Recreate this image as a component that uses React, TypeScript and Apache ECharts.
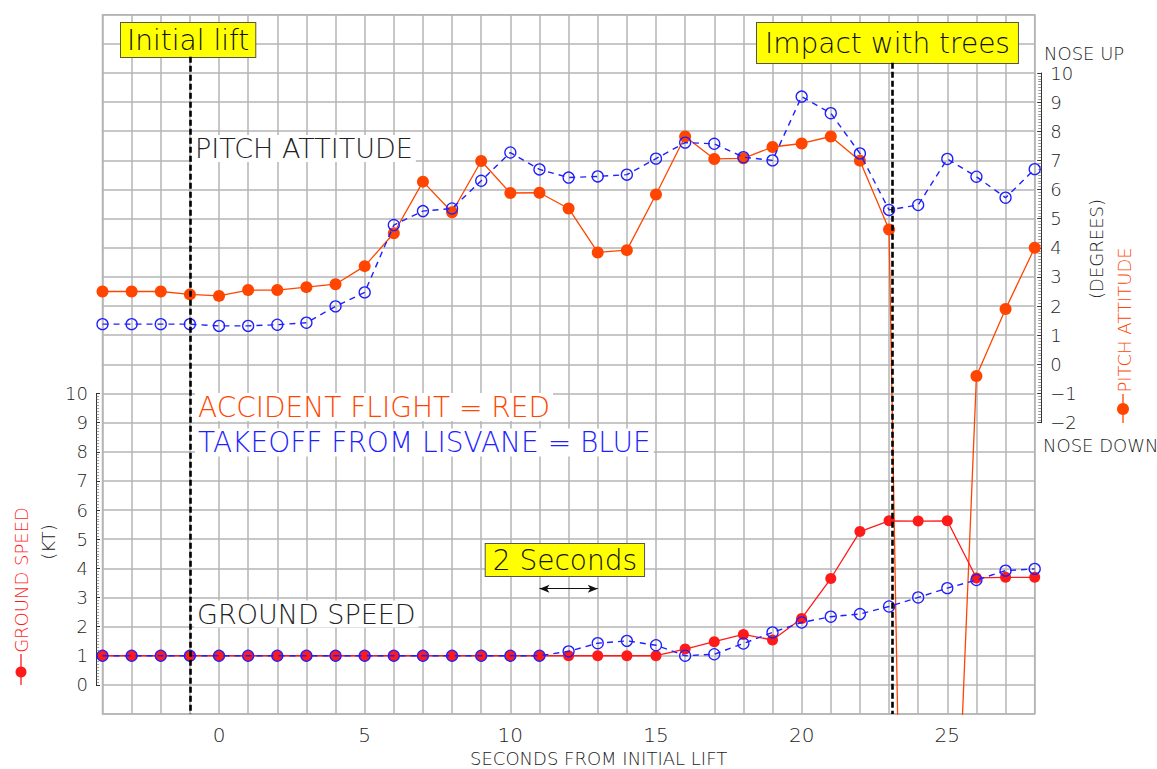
import React, { useEffect, useRef } from 'react';
import * as echarts from 'echarts';

// ---- data ----
const seconds = [-4, -3, -2, -1, 0, 1, 2, 3, 4, 5, 6, 7, 8, 9, 10, 11, 12, 13, 14, 15, 16, 17, 18, 19, 20, 21, 22, 23, 24, 25, 26, 27, 28];

// pitch attitude, degrees
const accidentPitch = [2.5, 2.5, 2.5, 2.4, 2.35, 2.55, 2.55, 2.65, 2.75, 3.37, 4.5, 6.27, 5.22, 6.98, 5.88, 5.89, 5.35, 3.84, 3.92, 5.83, 7.82, 7.05, 7.07, 7.46, 7.58, 7.82, 6.99, 4.63, -52, -24.7, -0.4, 1.9, 4.0];
const lisvanePitch = [1.38, 1.38, 1.38, 1.38, 1.32, 1.32, 1.36, 1.43, 1.99, 2.47, 4.78, 5.26, 5.35, 6.3, 7.27, 6.69, 6.41, 6.45, 6.51, 7.06, 7.61, 7.57, 7.11, 7.0, 9.19, 8.62, 7.24, 5.3, 5.47, 7.05, 6.44, 5.72, 6.7];

// ground speed, kt
const accidentSpeed = [1, 1, 1, 1, 1, 1, 1, 1, 1, 1, 1, 1, 1, 1, 1, 1, 1, 1, 1, 1, 1.23, 1.48, 1.73, 1.54, 2.28, 3.65, 5.26, 5.63, 5.62, 5.63, 3.67, 3.69, 3.69];
const lisvaneSpeed = [1, 1, 1, 1, 1, 1, 1, 1, 1, 1, 1, 1, 1, 1, 1, 1, 1.15, 1.43, 1.51, 1.36, 1.0, 1.05, 1.42, 1.8, 2.14, 2.34, 2.43, 2.69, 3.0, 3.32, 3.6, 3.92, 3.98];

// events (seconds from initial lift)
const initialLiftTime = -1;
const impactTime = 23.1;
// two-second scale bar (seconds, kt)
const scaleBarStart = 11;
const scaleBarEnd = 13;
const scaleBarLevel = 3.3;

const FONT = 'DejaVu Sans';
const GRID_COLOR = '#b4b4b4';
const ORANGE = '#ff4500';
const RED = '#ff1a1a';
const BLUE = '#1f1fff';
const INK = '#222222';

const pair = (ys: number[]) => seconds.map((s, i) => [s, ys[i]]);

function buildOption(): any {
  const hiddenX = (gridIndex: number) => ({ gridIndex, type: 'value', min: -4, max: 28, show: false });
  const rulerCommon = {
    type: 'value',
    interval: 1,
    splitLine: { show: false },
    axisLine: { show: true, onZero: false, lineStyle: { color: '#333', width: 1 } },
    axisTick: { show: true, inside: true, length: 4, lineStyle: { color: '#333', width: 1 } },
    minorTick: { show: true, splitNumber: 10, length: 3, lineStyle: { color: '#555', width: 0.6 } },
  };
  const txt = (text: string, x: number, y: number, size: number, color: string, extra: any = {}) => ({
    type: 'text',
    x,
    y,
    z: 5,
    ...extra.el,
    style: {
      text,
      fill: color,
      font: `200 ${size}px "${FONT}"`,
      fontSize: size,
      fontFamily: FONT,
      fontWeight: 200,
      lineHeight: size,
      align: extra.align || 'left',
      textAlign: extra.align || 'left',
      verticalAlign: extra.valign || 'middle',
      textVerticalAlign: extra.valign || 'middle',
      ...extra.style,
    },
  });
  const yellowBox = (text: string, x: number, y: number, padding: number[]) =>
    txt(text, x, y, 28, '#111', {
      valign: 'top',
      style: { backgroundColor: '#ffff00', borderColor: '#555', borderWidth: 1, padding },
    });
  const whiteText = (text: string, x: number, y: number, size: number, color: string) =>
    txt(text, x, y, size, color, { style: { backgroundColor: '#ffffff', padding: [0, 3] } });
  const rotated = (text: string, x: number, y: number, size: number, color: string) =>
    txt(text, x, y, size, color, { align: 'center', el: { rotation: Math.PI / 2 } });

  const gridBase = { left: 102.5, right: 122.3, outerBoundsMode: 'none', containLabel: false };

  return {
    animation: false,
    backgroundColor: '#ffffff',
    textStyle: { fontFamily: FONT },
    grid: [
      { ...gridBase, top: 14.7, bottom: 55, show: true, borderColor: GRID_COLOR, borderWidth: 1.5, backgroundColor: 'transparent' },
      { ...gridBase, top: 73, bottom: 346.3 },
      { ...gridBase, top: 393.5, bottom: 84.1 },
    ],
    xAxis: [
      {
        gridIndex: 0,
        type: 'value',
        min: -4,
        max: 28,
        interval: 1,
        axisLine: { show: false },
        axisTick: { show: false },
        splitLine: { show: true, lineStyle: { color: GRID_COLOR, width: 1.5 } },
        axisLabel: {
          formatter: (v: number) => (v % 5 === 0 ? String(v) : ''),
          fontSize: 20,
          fontWeight: 200,
          color: INK,
          fontFamily: FONT,
          margin: 11,
        },
        name: 'SECONDS FROM INITIAL LIFT',
        nameLocation: 'middle',
        nameGap: 35,
        nameTextStyle: { fontSize: 18, fontWeight: 200, color: INK, fontFamily: FONT, padding: [0, 0, 0, 60] },
      },
      hiddenX(1),
      hiddenX(2),
    ],
    yAxis: [
      {
        gridIndex: 0,
        type: 'value',
        min: -1,
        max: 23,
        interval: 1,
        axisLine: { show: false },
        axisTick: { show: false },
        axisLabel: { show: false },
        splitLine: { show: true, lineStyle: { color: GRID_COLOR, width: 1.5 } },
      },
      { gridIndex: 0, type: 'value', min: -12, max: 12, interval: 1, show: false },
      {
        ...rulerCommon,
        gridIndex: 1,
        position: 'right',
        offset: 6.5,
        min: -2,
        max: 10,
        axisLabel: {
          fontSize: 18,
          fontWeight: 200,
          color: INK,
          fontFamily: FONT,
          margin: 9,
          formatter: (v: number) => (v < 0 ? '\u2212' + Math.abs(v) : String(v)),
        },
      },
      {
        ...rulerCommon,
        gridIndex: 2,
        position: 'left',
        offset: 6.5,
        min: 0,
        max: 10,
        axisLabel: { fontSize: 18, fontWeight: 200, color: INK, fontFamily: FONT, margin: 8 },
      },
    ],
    series: [
      {
        type: 'line',
        name: 'Accident flight pitch',
        xAxisIndex: 0,
        yAxisIndex: 1,
        data: pair(accidentPitch),
        symbol: 'circle',
        symbolSize: 12,
        itemStyle: { color: ORANGE },
        lineStyle: { color: ORANGE, width: 1.3 },
        z: 3,
      },
      {
        type: 'line',
        name: 'Lisvane pitch',
        xAxisIndex: 0,
        yAxisIndex: 1,
        data: pair(lisvanePitch),
        symbol: 'circle',
        symbolSize: 11,
        itemStyle: { color: 'rgba(0,0,0,0)', borderColor: BLUE, borderWidth: 1.3 },
        lineStyle: { color: BLUE, width: 1.4, type: [6, 5] },
        z: 4,
      },
      {
        type: 'line',
        name: 'Accident flight ground speed',
        xAxisIndex: 0,
        yAxisIndex: 0,
        data: pair(accidentSpeed),
        symbol: 'circle',
        symbolSize: 11,
        itemStyle: { color: RED },
        lineStyle: { color: RED, width: 1.3 },
        z: 3,
      },
      {
        type: 'line',
        name: 'Lisvane ground speed',
        xAxisIndex: 0,
        yAxisIndex: 0,
        data: pair(lisvaneSpeed),
        symbol: 'circle',
        symbolSize: 11,
        itemStyle: { color: 'rgba(0,0,0,0)', borderColor: BLUE, borderWidth: 1.3 },
        lineStyle: { color: BLUE, width: 1.4, type: [6, 5] },
        z: 4,
        markLine: {
          silent: true,
          symbol: ['none', 'none'],
          label: { show: false },
          lineStyle: { color: '#000', width: 2.6, type: [6, 3] },
          data: [
            [{ coord: [initialLiftTime, 21.56] }, { coord: [initialLiftTime, -1] }],
            [{ coord: [impactTime, 21.35] }, { coord: [impactTime, -1] }],
          ],
        },
      },
      {
        type: 'line',
        name: 'scale',
        xAxisIndex: 0,
        yAxisIndex: 0,
        data: [],
        z: 6,
        markLine: {
          silent: true,
          symbol: ['arrow', 'arrow'],
          symbolSize: [6, 10],
          label: { show: false },
          lineStyle: { color: '#111', width: 1.2, type: 'solid' },
          data: [[{ coord: [scaleBarStart, scaleBarLevel] }, { coord: [scaleBarEnd, scaleBarLevel] }]],
        },
      },
    ],
    graphic: [
      yellowBox('Initial lift', 121, 23, [3, 6, 3, 6]),
      yellowBox('Impact with trees', 757, 23, [6, 8, 6, 8]),
      yellowBox('2 Seconds', 485.7, 544, [2, 7, 2, 7]),
      whiteText('PITCH ATTITUDE', 192, 148.5, 27, INK),
      whiteText('ACCIDENT FLIGHT = RED', 195, 407, 28, ORANGE),
      whiteText('TAKEOFF FROM LISVANE = BLUE', 195, 442.5, 28, BLUE),
      whiteText('GROUND SPEED', 194, 614, 27, INK),
      txt('NOSE UP', 1044, 53, 18, INK),
      txt('NOSE DOWN', 1043, 445, 18, INK),
      rotated('(DEGREES)', 1096, 249, 18, INK),
      rotated('PITCH ATTITUDE', 1124, 320, 18, ORANGE),
      { type: 'line', z: 5, shape: { x1: 1123, y1: 394, x2: 1123, y2: 423 }, style: { stroke: ORANGE, lineWidth: 1.3 } },
      { type: 'circle', z: 5, shape: { cx: 1123, cy: 409, r: 6 }, style: { fill: ORANGE } },
      rotated('GROUND SPEED', 21, 580, 18, RED),
      rotated('(KT)', 48, 542, 18, INK),
      { type: 'line', z: 5, shape: { x1: 21, y1: 654, x2: 21, y2: 685 }, style: { stroke: RED, lineWidth: 1.3 } },
      { type: 'circle', z: 5, shape: { cx: 21, cy: 672, r: 5.5 }, style: { fill: RED } },
    ],
  };
}

export default function App() {
  const ref = useRef<HTMLDivElement>(null);
  useEffect(() => {
    if (!ref.current) return;
    const chart = echarts.init(ref.current, undefined, { renderer: 'svg' });
    chart.setOption(buildOption());
    return () => chart.dispose();
  }, []);
  return (
    <div
      ref={ref}
      style={{ position: 'absolute', left: 0, top: 0, width: 1157, height: 769, background: '#fff' }}
    />
  );
}
